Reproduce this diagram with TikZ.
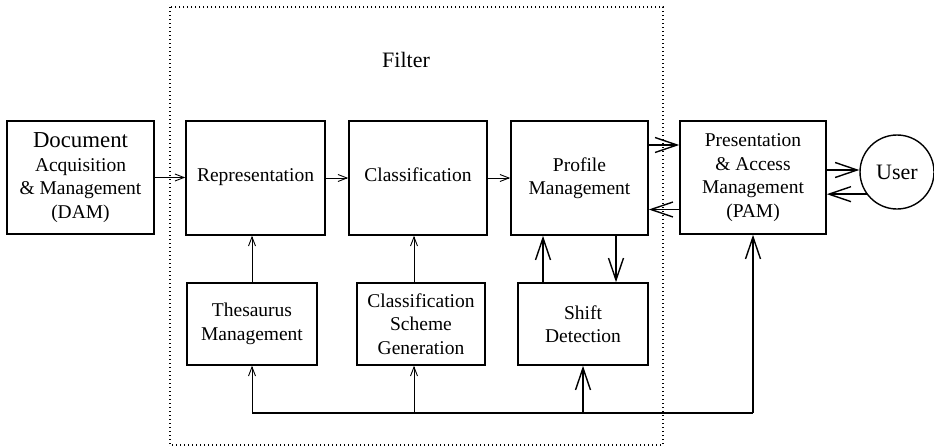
\documentclass[tikz,border=0pt]{standalone}
\usepackage{fontspec}
\setmainfont{Liberation Serif}
\usetikzlibrary{arrows.meta}
\begin{document}
\begin{tikzpicture}[x=1pt,y=-1pt,
  blk/.style={draw, line width=1.6pt, inner sep=0pt, align=center,
    font=\fontsize{19.5}{23.5}\selectfont},
  small/.style={line width=0.9pt, -{Straight Barb[length=9pt,width=7pt,line width=0.9pt]}},
  big/.style={line width=1.4pt, -{Straight Barb[length=22pt,width=15pt,line width=1.4pt]}},
  bus/.style={line width=1.4pt},
  frame/.style={line width=1.3pt, dash pattern=on 1.3pt off 2.7pt}]
\useasboundingbox (0,0) rectangle (934,447);
\draw[frame] (170,7) rectangle (663,445);
\node[font=\fontsize{22}{26}\selectfont] (filt) at (406,60) {Filter};
\node[blk, minimum width=147pt, minimum height=113pt] (dam) at (80.5,177.5)
  {{\fontsize{22.8}{24}\selectfont Document}\\Acquisition\\\& Management\\(DAM)};
\node[blk, minimum width=139pt, minimum height=114pt] (rep) at (255.5,178) {\raisebox{6pt}{Representation}};
\node[blk, minimum width=138pt, minimum height=114pt] (cls) at (418,178) {\raisebox{6pt}{Classification}};
\node[blk, minimum width=137pt, minimum height=114pt] (pm) at (579.5,178) {Profile\\Management};
\node[blk, minimum width=146pt, minimum height=113pt] (pam) at (753,177.5)
  {Presentation\\\& Access\\Management\\(PAM)};
\node[blk, circle, line width=1.4pt, minimum size=74pt, font=\fontsize{22}{26}\selectfont] (user) at (897,172) {User};
\node[blk, minimum width=130pt, minimum height=82pt] (thes) at (252,324) {Thesaurus\\Management};
\node[blk, minimum width=128pt, minimum height=82pt] (csg) at (421,324) {Classification\\Scheme\\Generation};
\node[blk, minimum width=130pt, minimum height=82pt] (sd) at (583,324) {Shift\\Detection};
% top row
\draw[small] (dam.east) -- (dam.east -| rep.west);
\draw[small] (rep.east) -- (cls.west);
\draw[small] (cls.east) -- (pm.west);
\draw[big] ([yshift=33pt]pm.east) -- ([yshift=33pt]pm.east -| pam.west);
\draw[big] ([yshift=-32pt]pam.west) -- ([yshift=-32pt]pam.west -| pm.east);
\draw[big] ([yshift=7.5pt]pam.east) -- ([yshift=7.5pt]pam.east -| user.west);
\draw[big] (user.216) -- (user.216 -| pam.east);
% vertical
\draw[small] (thes.north) -- (thes.north |- rep.south);
\draw[small] ([xshift=-7pt]csg.north) -- ([xshift=-7pt]csg.north |- cls.south);
\draw[big] ([xshift=-40pt]sd.north) -- ([xshift=-40pt]sd.north |- pm.south);
\draw[big] ([xshift=33pt]sd.north |- pm.south) -- ([xshift=33pt]sd.north);
% bus
\coordinate (bL) at (252,413);
\coordinate (bM) at (414,413);
\coordinate (bS) at (583,413);
\coordinate (bR) at (753,413);
\draw[bus] (bL) -- (bR);
\draw[small] (bL) -- (thes.south);
\draw[small] (bM) -- (bM |- csg.south);
\draw[big] (bS) -- (sd.south);
\draw[big] (bR) -- (pam.south);
\end{tikzpicture}
\end{document}
